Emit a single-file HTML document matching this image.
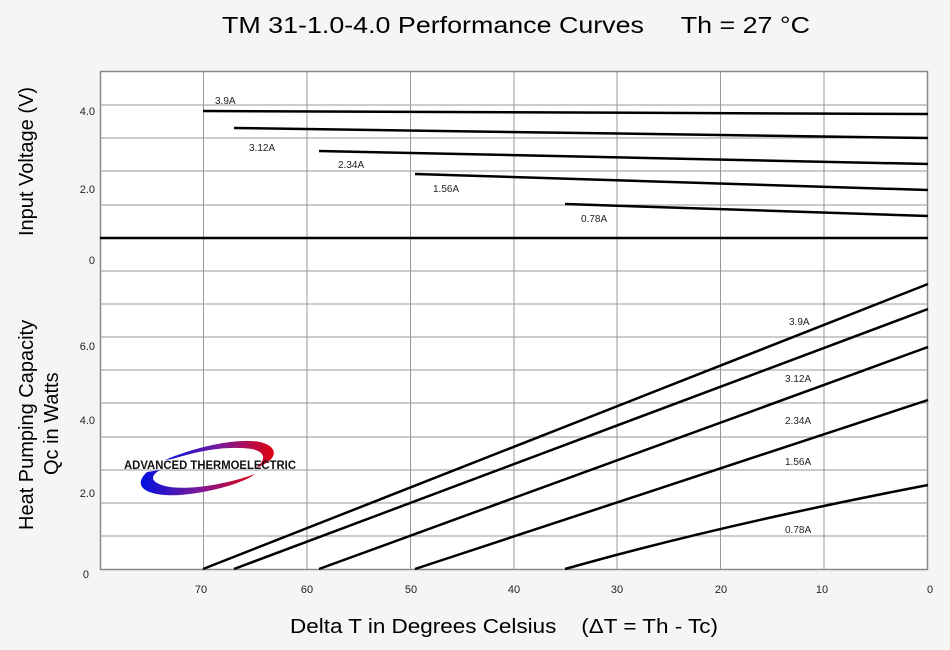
<!DOCTYPE html>
<html><head><meta charset="utf-8"><style>
html,body{margin:0;padding:0;background:#f5f5f5;}
svg{display:block;font-family:"Liberation Sans",sans-serif;}
</style></head><body>
<svg width="950" height="650" viewBox="0 0 950 650" xmlns="http://www.w3.org/2000/svg">
<defs>
<linearGradient id="g" x1="0" x2="1" y1="0" y2="0">
<stop offset="0" stop-color="#0010e0"/><stop offset="0.5" stop-color="#7a1a9a"/><stop offset="1" stop-color="#e00010"/>
</linearGradient>
</defs>
<rect width="950" height="650" fill="#f5f5f5"/>
<text x="222" y="33" font-size="23" textLength="588" lengthAdjust="spacingAndGlyphs" fill="#000">TM 31-1.0-4.0 Performance Curves&#160;&#160;&#160;&#160; Th = 27 °C</text>
<rect x="100.5" y="71.5" width="827" height="498" fill="#fff" stroke="#888" stroke-width="1.5"/>
<g stroke="#999" stroke-width="1">
<line x1="100" y1="105" x2="928" y2="105"/><line x1="100" y1="138" x2="928" y2="138"/>
<line x1="100" y1="171" x2="928" y2="171"/><line x1="100" y1="205" x2="928" y2="205"/>
<line x1="100" y1="271" x2="928" y2="271"/><line x1="100" y1="304" x2="928" y2="304"/>
<line x1="100" y1="337" x2="928" y2="337"/><line x1="100" y1="370" x2="928" y2="370"/>
<line x1="100" y1="403" x2="928" y2="403"/><line x1="100" y1="437" x2="928" y2="437"/>
<line x1="100" y1="470" x2="928" y2="470"/><line x1="100" y1="503" x2="928" y2="503"/>
<line x1="100" y1="536" x2="928" y2="536"/>
<line x1="203.5" y1="72" x2="203.5" y2="569"/><line x1="307" y1="72" x2="307" y2="569"/>
<line x1="410.5" y1="72" x2="410.5" y2="569"/><line x1="514" y1="72" x2="514" y2="569"/>
<line x1="617" y1="72" x2="617" y2="569"/><line x1="720.5" y1="72" x2="720.5" y2="569"/>
<line x1="824" y1="72" x2="824" y2="569"/>
</g>
<line x1="100" y1="238" x2="928" y2="238" stroke="#000" stroke-width="2.5"/>
<g stroke="#000" stroke-width="2.5" fill="none">
<line x1="203" y1="111" x2="928" y2="114"/>
<line x1="234" y1="128" x2="928" y2="138"/>
<line x1="319" y1="151" x2="928" y2="164"/>
<line x1="415" y1="174" x2="928" y2="190"/>
<line x1="565" y1="204" x2="928" y2="216"/>
<line x1="203" y1="569" x2="928" y2="284"/>
<line x1="234" y1="569" x2="928" y2="309"/>
<line x1="319" y1="569" x2="928" y2="347"/>
<line x1="415" y1="569" x2="928" y2="400"/>
<path d="M565 569 Q720 525 928 485"/>
</g>
<g font-size="10" fill="#222">
<text x="215" y="104">3.9A</text><text x="249" y="151">3.12A</text>
<text x="338" y="168">2.34A</text><text x="433" y="192">1.56A</text>
<text x="581" y="222">0.78A</text>
<text x="789" y="325">3.9A</text><text x="785" y="382">3.12A</text>
<text x="785" y="424">2.34A</text><text x="785" y="465">1.56A</text>
<text x="785" y="533">0.78A</text>
</g>
<g font-size="11" fill="#222" text-anchor="end">
<text x="95" y="115">4.0</text><text x="95" y="193">2.0</text><text x="95" y="264">0</text>
<text x="95" y="350">6.0</text><text x="95" y="424">4.0</text><text x="95" y="497">2.0</text><text x="89" y="578">0</text>
</g>
<g font-size="11" fill="#222" text-anchor="middle">
<text x="201" y="593">70</text><text x="307" y="593">60</text><text x="411" y="593">50</text>
<text x="514" y="593">40</text><text x="617" y="593">30</text><text x="721" y="593">20</text>
<text x="822" y="593">10</text><text x="930" y="593">0</text>
</g>
<text x="290" y="633" font-size="20" fill="#000" textLength="428" lengthAdjust="spacingAndGlyphs">Delta T in Degrees Celsius&#160;&#160;&#160; (ΔT = Th - Tc)</text>
<text transform="translate(33,236) rotate(-90)" font-size="20" fill="#000">Input Voltage (V)</text>
<text transform="translate(33,530) rotate(-90)" font-size="20" fill="#000">Heat Pumping Capacity</text>
<text transform="translate(58,475) rotate(-90)" font-size="20" fill="#000">Qc in Watts</text>
<g>
<path d="M147 472 C130 488 150 497 180 495 C215 492 245 482 255 474 C225 485 185 491 165 486 C150 482 150 476 160 470 Z" fill="url(#g)"/>
<path d="M165 460 C200 445 240 438 260 442 C280 447 278 460 256 468 C266 460 266 452 252 449 C225 445 195 452 172 459 Z" fill="url(#g)"/>
<text x="124" y="469" font-size="11.5" font-weight="bold" fill="#111" textLength="172" lengthAdjust="spacingAndGlyphs">ADVANCED THERMOELECTRIC</text>
</g>
</svg>
</body></html>
